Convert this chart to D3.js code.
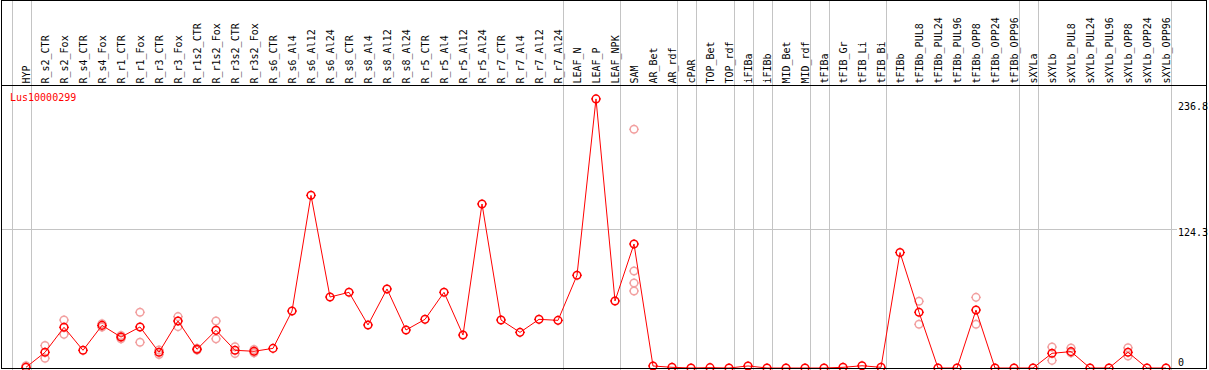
<!DOCTYPE html>
<html>
<head>
<meta charset="utf-8">
<script src="https://cdn.jsdelivr.net/npm/d3@7"></script>
<style>
  body { margin: 0; background: white; }
  text { font-family: "DejaVu Sans Mono", monospace; font-size: 10px; }
</style>
</head>
<body>
<div id="chart"></div>
<script>
// sample names, one column each
var samples = ["HYP", "R_s2_CTR", "R_s2_Fox", "R_s4_CTR", "R_s4_Fox", "R_r1_CTR", "R_r1_Fox",
  "R_r3_CTR", "R_r3_Fox", "R_r1s2_CTR", "R_r1s2_Fox", "R_r3s2_CTR", "R_r3s2_Fox", "R_s6_CTR",
  "R_s6_Al4", "R_s6_Al12", "R_s6_Al24", "R_s8_CTR", "R_s8_Al4", "R_s8_Al12", "R_s8_Al24",
  "R_r5_CTR", "R_r5_Al4", "R_r5_Al12", "R_r5_Al24", "R_r7_CTR", "R_r7_Al4", "R_r7_Al12", "R_r7_Al24",
  "LEAF_N", "LEAF_P", "LEAF_NPK", "SAM", "AR_Bet", "AR_rdf", "cPAR", "TOP_Bet", "TOP_rdf",
  "iFIBa", "iFIBb", "MID_Bet", "MID_rdf", "tFIBa", "tFIB_Gr", "tFIB_Li", "tFIB_Bi", "tFIBb",
  "tFIBb_PUL8", "tFIBb_PUL24", "tFIBb_PUL96", "tFIBb_OPP8", "tFIBb_OPP24", "tFIBb_OPP96",
  "sXYLa", "sXYLb", "sXYLb_PUL8", "sXYLb_PUL24", "sXYLb_PUL96", "sXYLb_OPP8", "sXYLb_OPP24", "sXYLb_OPP96"]

// mean expression per sample
var meanValues = [0.6, 14, 36.3, 15.8, 38, 27.6, 36.6, 14, 41.9, 16.7, 33.6, 15.8, 14.9, 17.5,
  50.8, 154, 63.3, 67.5, 38.4, 70.5, 33.9, 43.4, 67.5, 29.4, 146.3, 42.8, 31.8, 43.4, 42.5,
  82.7, 240, 59.8, 110.6, 1.8, 0.6, 0, 0.3, 0, 1.8, 0, 0, 0, 0, 0.6, 2, 0.6, 103,
  49.7, 0, 0, 51.7, 0, 0,
  0, 13.1, 14.6, 0, 0, 14, 0, 0]

// single replicates (pale circles)
var replicateSamples = ["HYP", "R_s2_CTR", "R_s2_Fox", "R_s4_Fox", "R_r1_CTR", "R_r1_Fox", "R_r3_CTR",
  "R_r3_Fox", "R_r1s2_CTR", "R_r1s2_Fox", "R_r3s2_CTR", "R_r3s2_Fox", "SAM", "tFIBb_PUL8",
  "tFIBb_OPP8", "sXYLb", "sXYLb_PUL8", "sXYLb_OPP8"]
var replicateValues = [[2], [20, 8.7], [42.8, 30], [39.5, 36.5], [29, 26], [49.7, 22.9], [16, 12],
  [45.8, 36.9], [17.5, 16], [41.9, 26], [19, 13], [16.5, 13.5], [212.9, 86.5, 75.8, 68.7], [59.5, 39],
  [63, 39], [18.7, 6.8], [17.8, 13.5], [18, 10.7]]

// gray column separators: drawn after these sample indices
var separatorsAfter = [-1, 0, 28, 31, 34, 35, 37, 38, 39, 41, 42, 45, 52, 53, 60]

var yTicks = [0, 124.3, 236.8]
var geneName = "Lus10000299"

var width = 1209, height = 370
var headerBottom = 85.5
var plotBottom = 368

var svg = d3.select("#chart")
  .append("svg")
  .attr("width", width)
  .attr("height", height)

var x = d3.scalePoint()
  .domain(samples)
  .range([26, 26 + 19 * (samples.length - 1)])

var y = d3.scaleLinear()
  .domain([0, 236.8])
  .range([plotBottom, 102.5])

var step = x.step()

// horizontal gridline (middle tick only)
svg.append("line")
  .attr("x1", 1).attr("x2", 1177)
  .attr("y1", Math.round(y(yTicks[1])) + 0.5)
  .attr("y2", Math.round(y(yTicks[1])) + 0.5)
  .style("stroke", "#c4c4c4")

// separators
svg.selectAll(".sep")
  .data(separatorsAfter)
  .enter().append("line")
  .attr("class", "sep")
  .attr("x1", function(d) { return Math.round(x(samples[0]) + (d + 0.25) * step) + 0.5 })
  .attr("x2", function(d) { return Math.round(x(samples[0]) + (d + 0.25) * step) + 0.5 })
  .attr("y1", 0).attr("y2", height)
  .style("stroke", "#c4c4c4")

// column labels
svg.selectAll(".lab")
  .data(samples)
  .enter().append("text")
  .attr("class", "lab")
  .attr("transform", function(d) { return "translate(" + (x(d) + 3.5) + "," + 83.5 + ") rotate(-90)" })
  .attr("text-anchor", "start")
  .text(function(d) { return d })
  .style("fill", "black")

// y labels
yTicks.forEach(function(t, i) {
  svg.append("text")
    .attr("x", 1178)
    .attr("y", i == 0 ? y(t) - 2 : y(t) + 7.5)
    .text(t)
    .style("fill", "black")
})

// gene name
svg.append("text")
  .attr("x", 10)
  .attr("y", 101)
  .text(geneName)
  .style("fill", "red")

function marker(g, cx, cy, color) {
  g.append("circle")
    .attr("cx", cx).attr("cy", cy).attr("r", 3.8)
    .style("fill", "none")
    .style("stroke", color)
    .style("stroke-width", 1.5)
  var t = 4, l = 5
  g.append("path")
    .attr("d", "M" + cx + "," + (cy - l) + "V" + (cy - t) + "M" + cx + "," + (cy + t) + "V" + (cy + l) +
      "M" + (cx - l) + "," + cy + "H" + (cx - t) + "M" + (cx + t) + "," + cy + "H" + (cx + l))
    .style("stroke", color)
    .style("stroke-width", 1)
}

// replicate points
var reps = svg.append("g")
replicateSamples.forEach(function(s, i) {
  replicateValues[i].forEach(function(v) {
    marker(reps, x(s), y(v), "#f2a0a0")
  })
})

// mean line
var line = d3.line()
  .x(function(d, i) { return x(samples[i]) })
  .y(function(d) { return y(d) })

svg.append("path")
  .attr("d", line(meanValues))
  .style("fill", "none")
  .style("stroke", "red")
  .style("stroke-width", 1)

var means = svg.append("g")
meanValues.forEach(function(v, i) {
  marker(means, x(samples[i]), y(v), "red")
})

// frame
svg.append("rect")
  .attr("x", 1.5).attr("y", 0.5)
  .attr("width", 1205).attr("height", 368)
  .style("fill", "none")
  .style("stroke", "black")
svg.append("line")
  .attr("x1", 1.5).attr("x2", 1206.5)
  .attr("y1", headerBottom).attr("y2", headerBottom)
  .style("stroke", "black")
</script>
</body>
</html>
